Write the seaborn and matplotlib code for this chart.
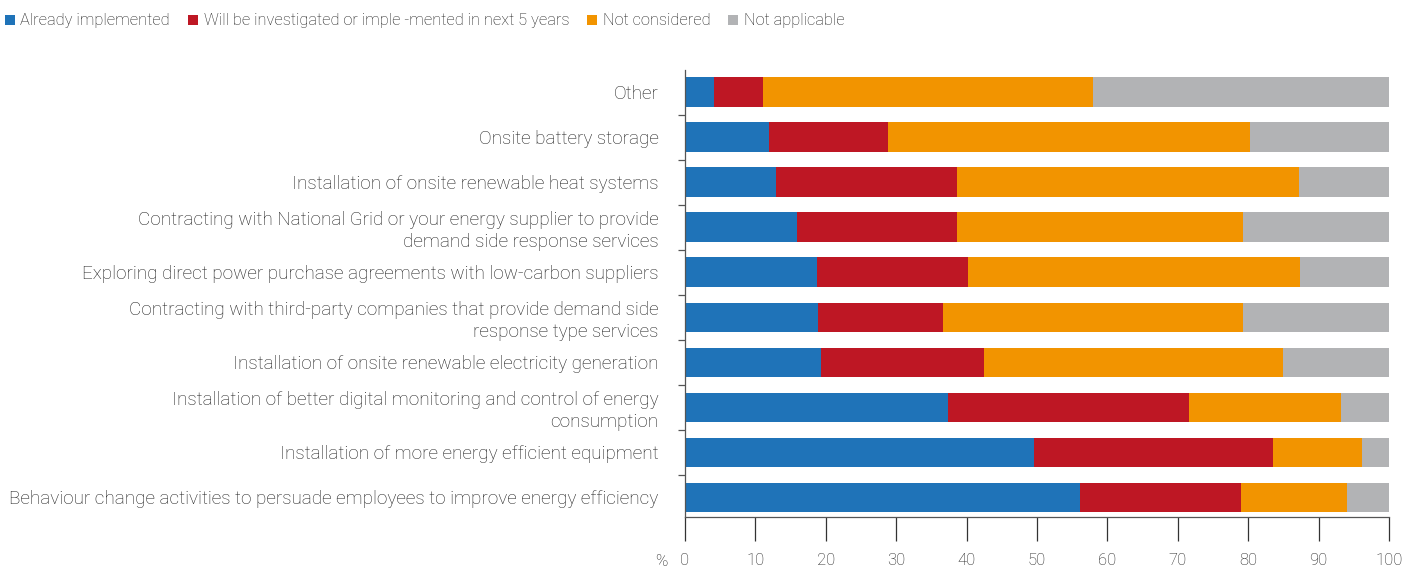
import numpy as np
import pandas as pd
import matplotlib
matplotlib.use('Agg')
import matplotlib.pyplot as plt
from matplotlib.patches import Patch
from matplotlib.transforms import blended_transform_factory
import seaborn as sns

categories = [
    'Other',
    'Onsite battery storage',
    'Installation of onsite renewable heat systems',
    'Contracting with National Grid or your energy supplier to provide\ndemand side response services',
    'Exploring direct power purchase agreements with low-carbon suppliers',
    'Contracting with third-party companies that provide demand side\nresponse type services',
    'Installation of onsite renewable electricity generation',
    'Installation of better digital monitoring and control of energy\nconsumption',
    'Installation of more energy efficient equipment',
    'Behaviour change activities to persuade employees to improve energy efficiency',
]
already = [4.1, 11.9, 12.9, 15.9, 18.7, 18.9, 19.3, 37.4, 49.6, 56.1]
investigate = [7.0, 16.9, 25.7, 22.7, 21.5, 17.8, 23.2, 34.2, 33.9, 22.9]
not_considered = [46.8, 51.4, 48.6, 40.7, 47.1, 42.6, 42.4, 21.6, 12.7, 15.1]
not_applicable = [42.1, 19.8, 12.8, 20.7, 12.7, 20.7, 15.1, 6.8, 3.8, 5.9]

series = ['Already implemented', 'Will be investigated or imple -mented in next 5 years',
          'Not considered', 'Not applicable']
colors = ['#1f73b8', '#be1724', '#f29400', '#b2b3b5']
text_col = '#1e1e1e'

df = pd.DataFrame({'cat': categories, 'a': already, 'b': investigate,
                   'c': not_considered, 'd': not_applicable})
df['c1'] = df['a']
df['c2'] = df['c1'] + df['b']
df['c3'] = df['c2'] + df['c']
df['c4'] = df['c3'] + df['d']

sns.set_style('white')
plt.rcParams['font.family'] = ['Roboto', 'DejaVu Sans']
plt.rcParams['font.weight'] = 'light'

fig = plt.figure(figsize=(14.13, 5.72), dpi=100)
ax = fig.add_axes([685 / 1413, 1 - 517 / 572, 704 / 1413, 447 / 572])

# stacked bars: draw cumulative totals from the back to the front
for col, c in zip(['c4', 'c3', 'c2', 'c1'], colors[::-1]):
    sns.barplot(data=df, x=col, y='cat', orient='h', color=c, width=0.65,
                saturation=1, linewidth=0, ax=ax)

ax.set_xlim(0, 100)
ax.set_ylim(9.44, -0.49)
ax.set_xlabel('')
ax.set_ylabel('')
ax.set_xticks(np.arange(0, 101, 10))
ax.tick_params(axis='x', length=17, width=0.9, color='#333333', pad=9,
               labelsize=12, labelcolor=text_col, bottom=True)
ax.set_yticks(np.arange(len(categories)), labels=categories)
ax.tick_params(axis='y', which='major', length=0, pad=19, labelsize=13.6,
               labelcolor=text_col)
for lab in ax.get_yticklabels():
    lab.set_linespacing(1.28)
ax.set_yticks(np.arange(0.5, 9, 1), minor=True)
ax.tick_params(axis='y', which='minor', length=5, width=0.9, color='#555555', left=True)

for s in ['top', 'right']:
    ax.spines[s].set_visible(False)
for s in ['left', 'bottom']:
    ax.spines[s].set_color('#555555')
    ax.spines[s].set_linewidth(0.9)

trans = blended_transform_factory(ax.transData, ax.transAxes)
ax.text(-3.3, -0.1, '%', transform=trans, ha='center', va='center',
        fontsize=12, color=text_col)

handles = [Patch(facecolor=c, edgecolor='none', label=l) for c, l in zip(colors, series)]
fig.legend(handles=handles, loc='upper left', bbox_to_anchor=(0.0, 0.985), ncol=4,
           frameon=False, fontsize=11.8, handlelength=0.6, handleheight=0.6,
           handletextpad=0.35, columnspacing=1.1, borderaxespad=0.1,
           borderpad=0.2, labelcolor=text_col)

fig.savefig('out.png', dpi=100)
